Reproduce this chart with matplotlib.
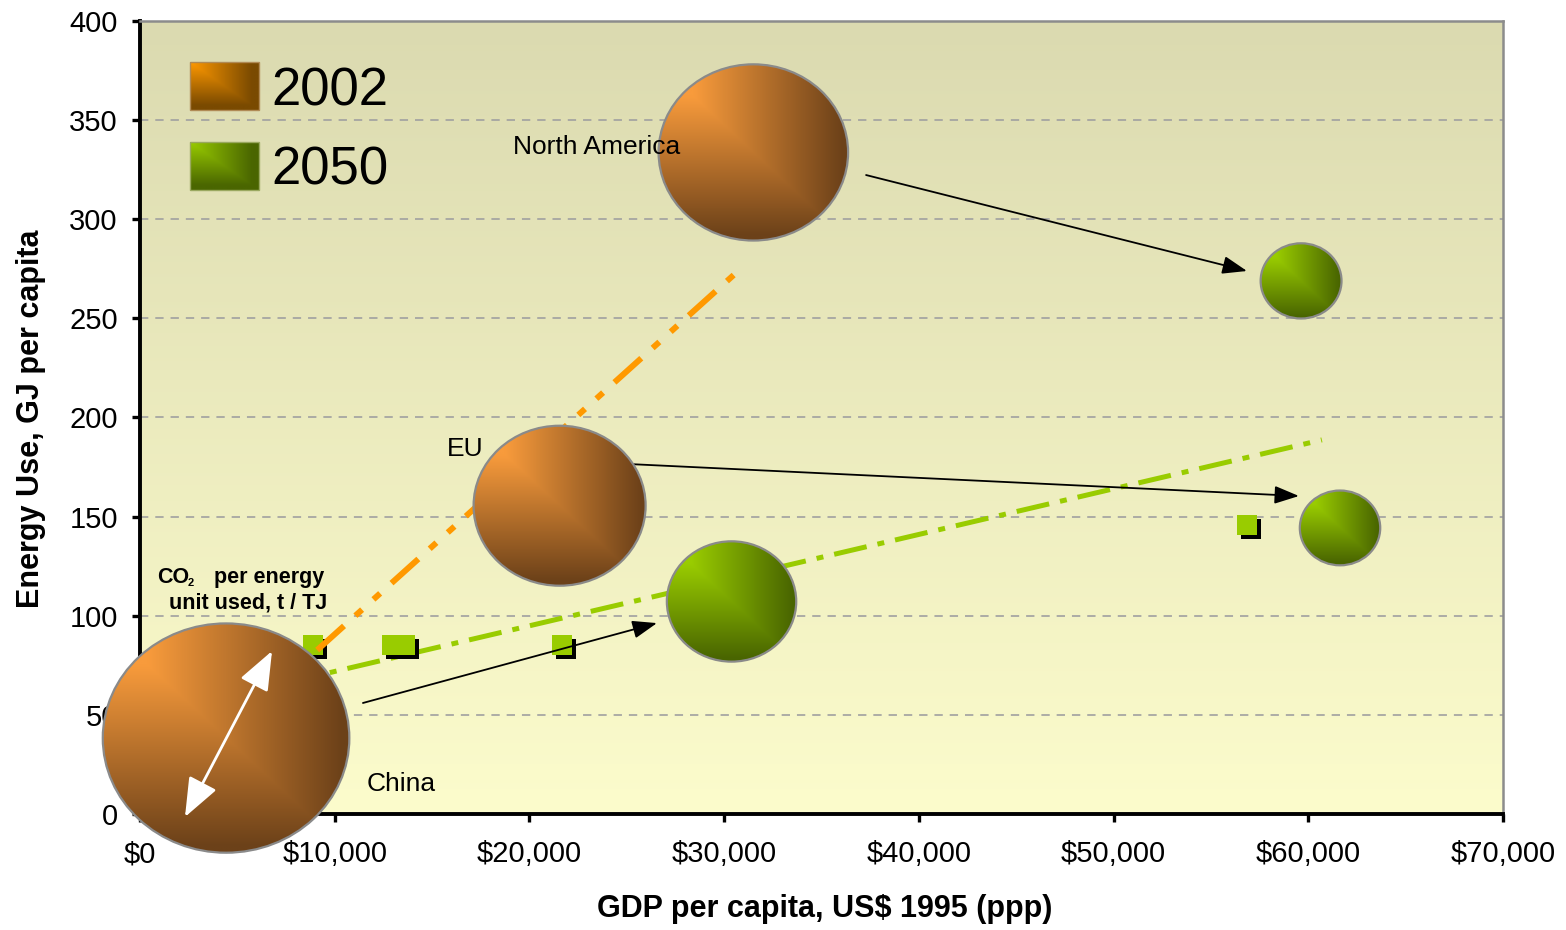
import numpy as np
import matplotlib
matplotlib.use("Agg")
import matplotlib.pyplot as plt
from matplotlib.patches import Ellipse, Rectangle
from matplotlib.colors import to_rgb
from matplotlib.ticker import FuncFormatter, MultipleLocator
from matplotlib.transforms import offset_copy

plt.rcParams['font.family'] = ['Liberation Sans', 'DejaVu Sans']
plt.rcParams['lines.scale_dashes'] = False

# --- data ---
regions = ['North America', 'EU', 'China']
gdp_2002 = [31500, 21550, 4420]
energy_2002 = [333.7, 155.5, 38.3]
co2_2002 = [47.2, 38.9, 79.9]          # bubble size, t CO2 / TJ
gdp_2050 = [59630, 61630, 30380]
energy_2050 = [268.9, 144.3, 107.2]
co2_2050 = [8.6, 8.5, 22.0]

# small square markers
sq_gdp = [8900, 12950, 13600, 21650, 56850]
sq_energy = [85.2, 85.2, 85.2, 85.2, 145.8]

# trend lines
trend_2002_x = [9100, 31070]
trend_2002_y = [82.7, 277.0]
trend_2050_x = [4400, 60700]
trend_2050_y = [59.0, 188.7]

# arrows 2002 -> 2050
arrow_from = [(37290, 322.3), (25170, 176.5), (11450, 56.0)]
arrow_to = [(56850, 273.9), (59520, 160.4), (26550, 96.3)]
scale_arrow = [(2310, -1.5), (6780, 82.2)]

label_x = [19160, 15740, 11645]
label_y = [333.0, 180.6, 11.8]

orange_light, orange_dark = '#F89B3C', '#6C4119'
green_light, green_dark = '#9ACD00', '#496500'


def gradient(light, dark, n=256, lo=0.18, hi=0.97):
    u = np.linspace(0, 1, n)
    U, V = np.meshgrid(u, u)
    t = np.clip((np.maximum(U, V) - lo) / (hi - lo), 0, 1)
    a, b = np.array(to_rgb(light)), np.array(to_rgb(dark))
    return a[None, None, :] * (1 - t[..., None]) + b[None, None, :] * t[..., None]


fig = plt.figure(figsize=(15.66, 9.30), dpi=100)
ax = fig.add_axes([140 / 1566, 116 / 930, 1363 / 1566, 793 / 930])
ax.set_xlim(0, 70000)
ax.set_ylim(0, 400)

# background gradient
bg = np.linspace(0, 1, 256)[:, None, None]
top, bot = np.array(to_rgb('#DBDAB0')), np.array(to_rgb('#FCFCCC'))
ax.imshow(top * (1 - bg) + bot * bg, extent=[0, 70000, 0, 400], aspect='auto', zorder=0)

ax.set_axisbelow(True)
ax.yaxis.grid(True, color='#a0a0a0', lw=1.2, linestyle=(0, (6, 5)))
ax.yaxis.set_major_locator(MultipleLocator(50))
ax.xaxis.set_major_locator(MultipleLocator(10000))
ax.xaxis.set_major_formatter(FuncFormatter(lambda v, _: f"${v:,.0f}"))
ax.tick_params(axis='both', direction='out', length=6, width=2.4, labelsize=21, pad=10)
ax.tick_params(axis='x', pad=13)
for s in ['left', 'bottom']:
    ax.spines[s].set_linewidth(2.8)
    ax.spines[s].set_color('black')
for s in ['top', 'right']:
    ax.spines[s].set_linewidth(1.8)
    ax.spines[s].set_color('#8c8c8c')

# pixels per data unit
p0 = ax.transData.transform((0, 0))
p1 = ax.transData.transform((1000, 100))
sx = (p1[0] - p0[0]) / 1000
sy = (p1[1] - p0[1]) / 100


def bubble(x, y, value, light, dark, z):
    r = 13.3 * np.sqrt(value)
    w = 2 * r * 1.037 / sx
    h = 2 * r / 1.037 / sy
    edge = Ellipse((x, y), w, h, facecolor='none', edgecolor='#8a8a8a', lw=1.6,
                   zorder=z + 0.1, clip_on=False)
    ax.add_patch(edge)
    im = ax.imshow(gradient(light, dark), extent=[x - w / 2, x + w / 2, y - h / 2, y + h / 2],
                   aspect='auto', zorder=z, interpolation='bilinear')
    im.set_clip_path(edge)
    im.set_clip_box(fig.bbox)


# squares with shadow
shadow = offset_copy(ax.transData, fig=fig, x=4, y=-4, units='dots')
ax.plot(sq_gdp, sq_energy, 's', ms=15, mew=0, color='black', transform=shadow, zorder=3.4)
ax.plot(sq_gdp, sq_energy, 's', ms=15, mew=0, color='#99CC00', zorder=3.5)

# trend lines
ax.plot(trend_2002_x, trend_2002_y, color='#FF9900', lw=4.3, solid_capstyle='butt',
        dash_capstyle='butt', linestyle=(0, (26, 11, 6.5, 11, 6.5, 11)), zorder=3.6)
ax.plot(trend_2050_x, trend_2050_y, color='#99CC00', lw=3.6, dash_capstyle='butt',
        linestyle=(0, (24, 8, 5, 8)), zorder=3)

# arrows
for a, b in zip(arrow_from, arrow_to):
    ax.annotate('', xy=b, xytext=a, zorder=3.8,
                arrowprops=dict(arrowstyle='-|>,head_length=1.5,head_width=0.55',
                                mutation_scale=10, color='black', lw=1.3,
                                shrinkA=0, shrinkB=0))

for i in range(3):
    bubble(gdp_2002[i], energy_2002[i], co2_2002[i], orange_light, orange_dark, 4 + i * 0.2)
    bubble(gdp_2050[i], energy_2050[i], co2_2050[i], green_light, green_dark, 4 + i * 0.2)

ax.annotate('', xy=scale_arrow[1], xytext=scale_arrow[0], zorder=5.5, annotation_clip=False,
            arrowprops=dict(arrowstyle='<|-|>,head_length=2.4,head_width=0.95',
                            mutation_scale=10, color='white', lw=2,
                            shrinkA=0, shrinkB=0))

for name, x, y in zip(regions, label_x, label_y):
    ax.text(x, y, name, fontsize=19, va='baseline', ha='left', zorder=6)

ax.text(873, 116.5, 'CO', fontsize=15.5, fontweight='bold', va='baseline', zorder=6)
ax.text(2465, 115.0, '2', fontsize=8, fontweight='bold', va='baseline', zorder=6)
ax.text(3800, 116.5, 'per energy', fontsize=15.5, fontweight='bold', va='baseline', zorder=6)
ax.text(1490, 103.9, 'unit used, t / TJ', fontsize=15.5, fontweight='bold', va='baseline', zorder=6)

# legend
for y0, light, dark, ec, lab in [(355.1, '#FF9900', '#7A4A00', '#B08a55', '2002'),
                                 (314.8, '#99CC00', '#4A6600', '#9aa860', '2050')]:
    ax.imshow(gradient(light, dark, lo=0.0, hi=0.9), extent=[2570, 6110, y0, y0 + 24.2],
              aspect='auto', zorder=5, interpolation='bilinear')
    ax.add_patch(Rectangle((2570, y0), 3540, 24.2, facecolor='none', edgecolor=ec, lw=1, zorder=5.1))
    ax.text(6763, y0 + 2.5, lab, fontsize=38, va='baseline', ha='left', zorder=6)

ax.set_xlim(0, 70000)
ax.set_ylim(0, 400)

fig.text(825 / 1566, (930 - 917) / 930, 'GDP per capita, US$ 1995 (ppp)', fontsize=22,
         fontweight='bold', ha='center', va='baseline')
fig.text(31 / 1566, (930 - 419) / 930, 'Energy Use, GJ per capita', fontsize=22,
         fontweight='bold', ha='center', va='center', rotation=90)

fig.savefig('out.png', dpi=100)
